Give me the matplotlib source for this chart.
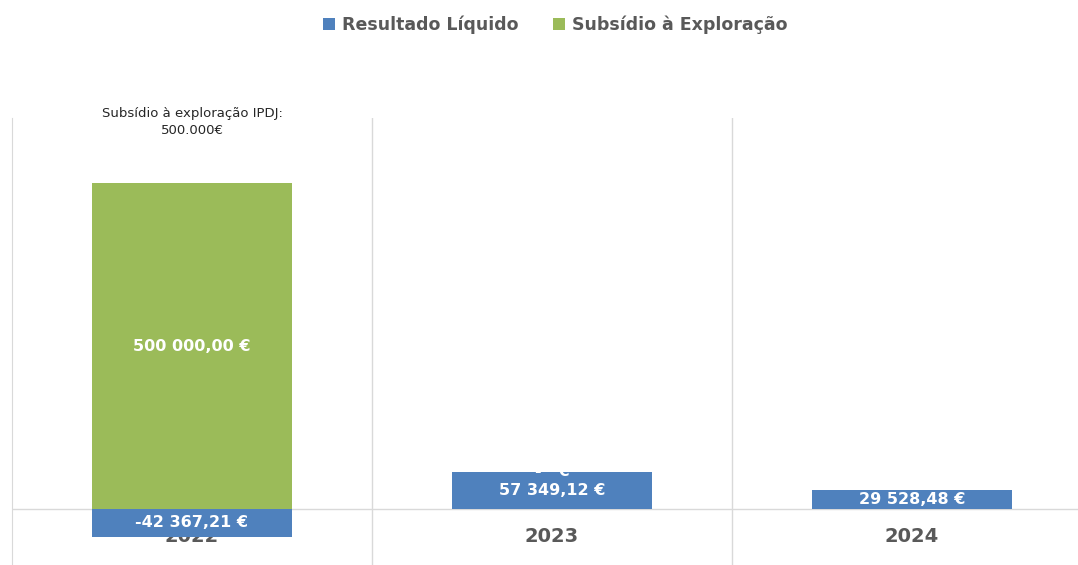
import matplotlib
matplotlib.use('Agg')
import matplotlib.pyplot as plt
import numpy as np

# ── data ──
anos = ['2022', '2023', '2024']
resultado_liquido = [-42367.21, 57349.12, 29528.48]
subsidio_exploracao = [500000.00, 0.0, np.nan]
nota_subsidio = 'Subsídio à exploração IPDJ:\n500.000€'

AZUL = '#4F81BD'
VERDE = '#9BBB59'
CINZA_TXT = '#595959'
CINZA_GRID = '#D9D9D9'


def fmt_eur(v):
    if v is None or np.isnan(v):
        return ''
    if v == 0:
        return '-   €'
    s = f"{abs(v):,.2f}".replace(',', ' ').replace('.', ',')
    return ('-' if v < 0 else '') + s + ' €'


plt.rcParams['font.family'] = ['DejaVu Sans']

fig = plt.figure(figsize=(10.78, 5.65), dpi=100)
ax = fig.add_axes([12 / 1078, 0.0, 1080 / 1078, 1 - 118 / 565])

x = np.arange(len(anos))
w = 0.556

# stacked: negatives go below zero, positives stack upward
res = np.array(resultado_liquido)
sub = np.array(subsidio_exploracao)
base_sub = np.where(res > 0, res, 0)

b1 = ax.bar(x, res, width=w, color=AZUL, zorder=2, label='Resultado Líquido')
b2 = ax.bar(x, np.nan_to_num(sub), bottom=base_sub, width=w, color=VERDE, zorder=2,
            label='Subsídio à Exploração')

lbl_kw = dict(label_type='center', color='white', fontsize=11.5, fontweight='bold')
t1 = ax.bar_label(b1, labels=[fmt_eur(v) for v in res], **lbl_kw)
t2 = ax.bar_label(b2, labels=[fmt_eur(v) for v in sub], **lbl_kw)
for t in list(t1) + list(t2):
    t.set_zorder(4)

ax.annotate(nota_subsidio, xy=(x[0], sub[0]), xytext=(0, 33), textcoords='offset points',
            ha='center', va='bottom', fontsize=9.5, color='#262626', annotation_clip=False,
            linespacing=1.4)

ax.set_xlim(-0.5, 2.5)
ax.set_ylim(-85900, 600000)

ax.axhline(0, color=CINZA_GRID, lw=1, zorder=1)
for xv in [0.5, 1.5]:
    ax.axvline(xv, color=CINZA_GRID, lw=1, zorder=0)

for s in ['top', 'right', 'bottom']:
    ax.spines[s].set_visible(False)
ax.spines['left'].set_color(CINZA_GRID)
ax.set_yticks([])
ax.set_xticks(x)
ax.set_xticklabels(anos, fontsize=14, fontweight='bold', color=CINZA_TXT)
ax.tick_params(axis='x', length=0, pad=-27)
for t in ax.get_xticklabels():
    t.set_zorder(3)

fig.legend(handles=[b1, b2], loc='center', bbox_to_anchor=(0.515, 1 - 25 / 565), ncol=2,
           frameon=False, handlelength=0.7, handleheight=0.7, handletextpad=0.4,
           columnspacing=2.0, prop={'weight': 'bold', 'size': 12.5}, labelcolor=CINZA_TXT)

fig.savefig('out.png', dpi=100)
